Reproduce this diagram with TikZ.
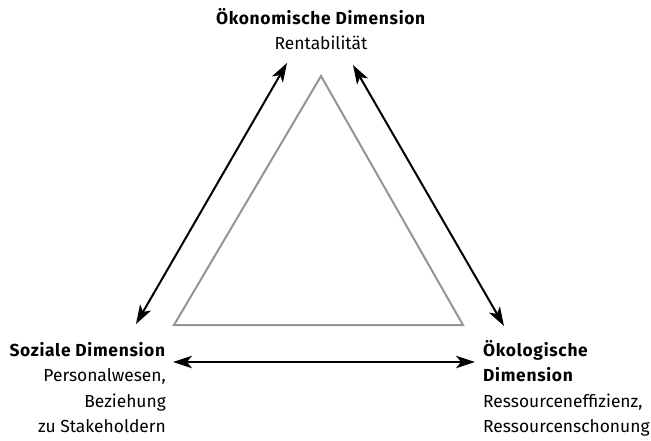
\documentclass[tikz,border=0pt]{standalone}
\usepackage{fontspec}
\setmainfont{Fira Sans}[BoldFeatures={LetterSpace=4}]
\usetikzlibrary{arrows.meta}
\begin{document}
\begin{tikzpicture}[x=1pt,y=-1pt,
  lbl/.style={font=\fontsize{17.4}{25.5}\selectfont, inner sep=0pt},
  arr/.style={line width=2pt, {Stealth[length=19pt,width=12.5pt,inset=5pt]}-{Stealth[length=19pt,width=12.5pt,inset=5pt]}},
  tri/.style={draw=black!42, line width=2pt, line join=miter}]
\useasboundingbox (0,0) rectangle (651,440);
\coordinate (A) at (321,76);
\coordinate (B) at (174,325);
\coordinate (C) at (463,325);
\draw[tri] (A) -- (B) -- (C) -- cycle;
\node[lbl, anchor=base] (oek1) at (321,24) {\textbf{Ökonomische Dimension}};
\node[lbl, anchor=base] (oek2) at (321,49.5) {Rentabilität};
\node[lbl, anchor=base east] (soz1) at (166,356) {\textbf{Soziale Dimension}};
\node[lbl, anchor=base east] (soz2) at (166,381.5) {Personalwesen,};
\node[lbl, anchor=base east] (soz3) at (166,407) {Beziehung};
\node[lbl, anchor=base east] (soz4) at (166,432.5) {zu Stakeholdern};
\node[lbl, anchor=base west] (oko1) at (483,356) {\textbf{Ökologische}};
\node[lbl, anchor=base west] (oko2) at (483,381.5) {\textbf{Dimension}};
\node[lbl, anchor=base west] (oko3) at (483,407) {Ressourceneffizienz,};
\node[lbl, anchor=base west] (oko4) at (483,432.5) {Ressourcenschonung};
\coordinate (l1) at (136,324); \coordinate (l2) at (287,63);
\coordinate (r1) at (353,65); \coordinate (r2) at (504,326);
\coordinate (b1) at (173,362); \coordinate (b2) at (475,362);
\draw[arr] (l1) -- (l2);
\draw[arr] (r1) -- (r2);
\draw[arr] (b1) -- (b2);
\end{tikzpicture}
\end{document}
